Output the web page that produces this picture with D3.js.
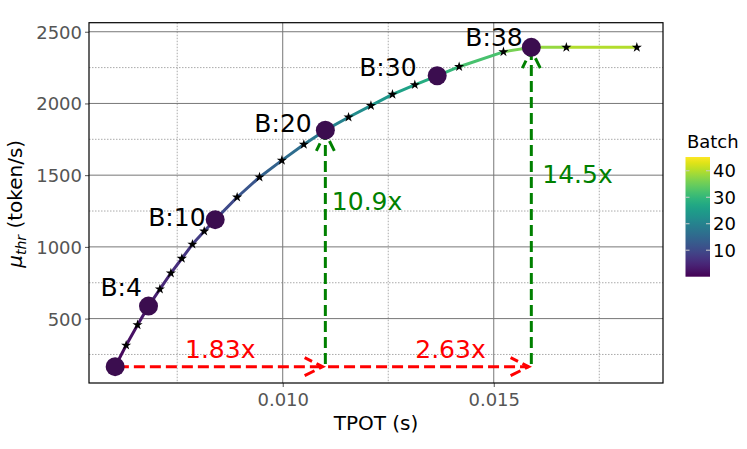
<!DOCTYPE html>
<html><head><meta charset="utf-8">
<script src="https://cdn.jsdelivr.net/npm/d3@7"></script>
<style>body{margin:0;background:#fff}text{font-family:"DejaVu Sans",sans-serif}</style>
</head><body><svg id="c" width="747" height="449"></svg>
<script>
const batch = [1,2,3,4,5,6,7,8,9,10,12,14,16,18,20,22,24,26,28,30,32,36,38,40,44];
const tpot = [0.00603,0.00629,0.00656,0.00682,0.00709,0.00735,0.00761,0.00786,0.00814,0.00840,0.00892,0.00945,0.00998,0.01050,0.01101,0.01156,0.01209,0.01260,0.01313,0.01366,0.01418,0.01523,0.01589,0.01672,0.01839];
const thr = [165,314,456,587,705,817,919,1018,1109,1190,1346,1486,1603,1714,1814,1904,1985,2063,2130,2193,2256,2360,2391,2391,2391];
const highlight = [1,4,10,20,30,38];
const labelled = [4,10,20,30,38];
const xMajor = [0.010,0.015];
const xMinor = [0.0075,0.0125,0.0175];
const yMajor = [500,1000,1500,2000,2500];
const yMinor = [250,750,1250,1750,2250];
const cbTicks = [10,20,30,40];
const hTexts = ["1.83x","2.63x"];
const vTexts = ["10.9x","14.5x"];

const svg = d3.select("#c");
const L=89, R=663, T=22.7, B=383;
const x = d3.scaleLinear().domain([0.00541,0.01901]).range([L,R]);
const y = d3.scaleLinear().domain([51,2563]).range([B,T]);
const cmax = 45.2;
const col = v => d3.interpolateViridis(v/cmax);
const pts = batch.map((b,i)=>({b, x:tpot[i], y:thr[i]}));
const byB = b => pts.find(p=>p.b===b);

// grid
const g = svg.append("g");
g.selectAll(".xm").data(xMinor).join("line").attr("x1",d=>x(d)).attr("x2",d=>x(d)).attr("y1",T).attr("y2",B)
 .attr("stroke","#aaa").attr("stroke-width",1).attr("stroke-dasharray","1.5,1.5");
g.selectAll(".ym").data(yMinor).join("line").attr("y1",d=>y(d)).attr("y2",d=>y(d)).attr("x1",L).attr("x2",R)
 .attr("stroke","#aaa").attr("stroke-width",1).attr("stroke-dasharray","1.5,1.5");
g.selectAll(".xM").data(xMajor).join("line").attr("x1",d=>x(d)).attr("x2",d=>x(d)).attr("y1",T).attr("y2",B)
 .attr("stroke","#777").attr("stroke-width",1);
g.selectAll(".yM").data(yMajor).join("line").attr("y1",d=>y(d)).attr("y2",d=>y(d)).attr("x1",L).attr("x2",R)
 .attr("stroke","#777").attr("stroke-width",1);

// axes
const xa = svg.append("g").attr("transform",`translate(0,${B})`)
 .call(d3.axisBottom(x).tickValues(xMajor).tickFormat(d3.format(".3f")).tickSize(4).tickPadding(4));
const ya = svg.append("g").attr("transform",`translate(${L},0)`)
 .call(d3.axisLeft(y).tickValues(yMajor).tickFormat(d3.format("d")).tickSize(4).tickPadding(3));
[xa,ya].forEach(a=>{a.select(".domain").remove();
 a.selectAll("line").attr("stroke","#555");
 a.selectAll("text").attr("fill","#555").attr("font-size",18).attr("font-family","DejaVu Sans");});
xa.selectAll("text").attr("dy","0.85em");
ya.selectAll("text").attr("dy","0.36em");
svg.append("rect").attr("x",L).attr("y",T).attr("width",R-L).attr("height",B-T)
 .attr("fill","none").attr("stroke","#000").attr("stroke-width",1.2);

svg.append("text").attr("x",(L+R)/2).attr("y",430).attr("text-anchor","middle").attr("font-size",20).text("TPOT (s)");
const yl = svg.append("text").attr("transform",`translate(22,${(T+B)/2+1}) rotate(-90)`).attr("text-anchor","middle").attr("font-size",20);
yl.append("tspan").attr("font-style","italic").text("μ");
yl.append("tspan").attr("font-style","italic").attr("font-size",14).attr("dy",4).text("thr");
yl.append("tspan").attr("dy",-4).text(" (token/s)");

// colored line
const segs = d3.pairs(pts);
svg.append("g").selectAll("line").data(segs).join("line")
 .attr("x1",d=>x(d[0].x)).attr("y1",d=>y(d[0].y)).attr("x2",d=>x(d[1].x)).attr("y2",d=>y(d[1].y))
 .attr("stroke",d=>col(d[0].b)).attr("stroke-width",3).attr("stroke-linecap","round");

// stars
svg.append("g").selectAll("path").data(pts).join("path")
 .attr("transform",d=>`translate(${x(d.x)},${y(d.y)})`)
 .attr("d",d3.symbol(d3.symbolStar,32)).attr("fill","#000");

// labels
const offs = {4:[-6.6,-10],10:[-9.6,6],20:[-13.6,2.3],30:[-20.6,0.3],38:[-8.6,-1.6]};
svg.append("g").selectAll("text").data(labelled.map(byB)).join("text")
 .attr("x",d=>x(d.x)+offs[d.b][0]).attr("y",d=>y(d.y)+offs[d.b][1])
 .attr("text-anchor","end").attr("font-size",25).attr("fill","#000").text(d=>"B:"+d.b);

// arrows
function arrow(x1,y1,x2,y2,color){
  const dx=x2-x1, dy=y2-y1, len=Math.hypot(dx,dy), ux=dx/len, uy=dy/len;
  const sA=2.7, sB=2.7;
  const sx=x1+ux*sA, sy=y1+uy*sA, tx=x2-ux*sB, ty=y2-uy*sB;
  const hl=18, hw=9;
  const ax=tx-ux*hl - uy*hw, ay=ty-uy*hl + ux*hw;
  const bx=tx-ux*hl + uy*hw, by=ty-uy*hl - ux*hw;
  const ag = svg.append("g").attr("fill","none").attr("stroke",color).attr("stroke-width",3).attr("stroke-dasharray","11,5");
  ag.append("path").attr("d",`M${sx},${sy}L${tx},${ty}`);
  ag.append("path").attr("d",`M${ax},${ay}L${tx},${ty}L${bx},${by}`);
}
const p1=byB(1), p20=byB(20), p38=byB(38);
arrow(x(p1.x),y(p1.y),x(p20.x),y(p1.y),"#ff0000");
arrow(x(p20.x),y(p1.y),x(p38.x),y(p1.y),"#ff0000");
arrow(x(p20.x),y(p1.y),x(p20.x),y(p20.y),"#008000");
arrow(x(p38.x),y(p1.y),x(p38.x),y(p38.y),"#008000");
svg.append("text").attr("x",(x(p1.x)+x(p20.x))/2).attr("y",y(p1.y)-9).attr("text-anchor","middle")
 .attr("font-size",25).attr("fill","#ff0000").text(hTexts[0]);
svg.append("text").attr("x",x(0.01314)).attr("y",y(p1.y)-9).attr("text-anchor","start")
 .attr("font-size",25).attr("fill","#ff0000").text(hTexts[1]);
svg.append("text").attr("x",x(p20.x)+6.5).attr("y",y(1255)).attr("font-size",25).attr("fill","#008000").text(vTexts[0]);
svg.append("text").attr("x",x(p38.x)+11).attr("y",y(1445)).attr("font-size",25).attr("fill","#008000").text(vTexts[1]);

// circles
svg.append("g").selectAll("circle").data(highlight.map(byB)).join("circle")
 .attr("cx",d=>x(d.x)).attr("cy",d=>y(d.y)).attr("r",9.5).attr("fill","#3b0d4f");

// colorbar
const cb = {x:685.5, y:157, w:24.5, h:119.7};
const cy = d3.scaleLinear().domain([0,cmax]).range([cb.y+cb.h, cb.y]);
const grad = svg.append("defs").append("linearGradient").attr("id","vg").attr("x1",0).attr("y1",1).attr("x2",0).attr("y2",0);
d3.range(0,1.0001,0.05).forEach(t=>grad.append("stop").attr("offset",t).attr("stop-color",d3.interpolateViridis(t)));
svg.append("rect").attr("x",cb.x).attr("y",cb.y).attr("width",cb.w).attr("height",cb.h).attr("fill","url(#vg)");
const ct = svg.append("g").selectAll("g").data(cbTicks).join("g");
ct.append("line").attr("x1",cb.x).attr("x2",cb.x+4).attr("y1",d=>cy(d)).attr("y2",d=>cy(d)).attr("stroke","#ccc").attr("stroke-width",1);
ct.append("line").attr("x1",cb.x+cb.w-4).attr("x2",cb.x+cb.w).attr("y1",d=>cy(d)).attr("y2",d=>cy(d)).attr("stroke","#ccc").attr("stroke-width",1);
ct.append("text").attr("x",cb.x+cb.w+3).attr("y",d=>cy(d)).attr("dy","0.36em").attr("font-size",18).attr("fill","#000").text(d=>d);
svg.append("text").attr("x",cb.x+cb.w/2+15).attr("y",148).attr("text-anchor","middle").attr("font-size",18).text("Batch");
</script></body></html>
